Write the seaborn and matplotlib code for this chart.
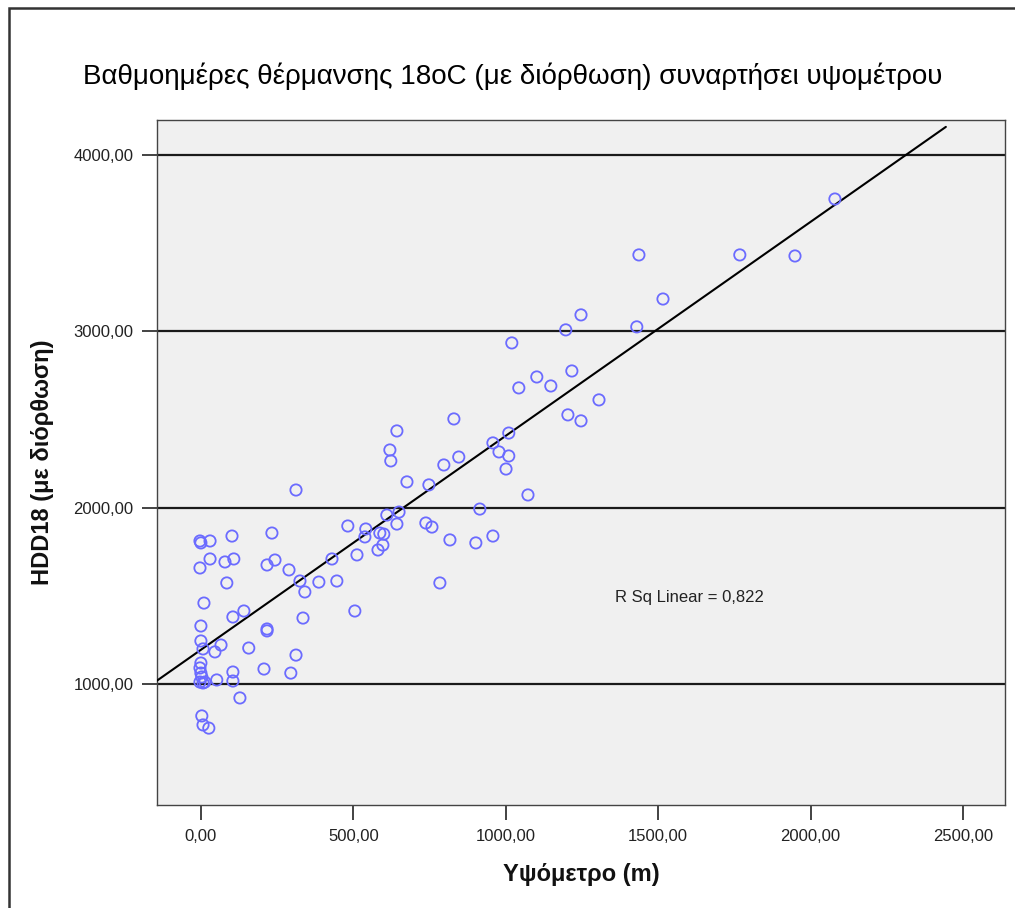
import numpy as np
import pandas as pd
import matplotlib
matplotlib.use("Agg")
import matplotlib.pyplot as plt
from matplotlib.patches import Rectangle
from matplotlib.ticker import FixedLocator, FuncFormatter
import seaborn as sns

# ---------------- data ----------------
altitude = [
    2080, 1437, 1768, 1949, 1516, 1247, 1197, 1430, 1020, 1217,
    1102, 1148, 1043, 1306, 1204, 1247, 830, 643, 1010, 958,
    620, 978, 623, 846, 1010, 797, 1001, 676, 748, 312,
    1073, 915, 610, 650, 643, 482, 541, 538, 587, 600,
    597, 581, 738, 758, 817, 902, 958, 512, 430, 784,
    387, 446, 341, 505, 335,
    -3, 0, 30, 102, 233, 30, -3, 79, 108, 217,
    243, 289, 325, 85, 10, 141, 105, 0, 217, 217,
    0, 7, 66, 46, 157, 312, 0, -3, 0, 3,
    -3, 7, 13, 52, 105, 105, 207, 295, 128, 3,
    7, 26,
]
hdd18 = [
    3750, 3433, 3433, 3427, 3183, 3093, 3008, 3025, 2934, 2775,
    2741, 2690, 2679, 2611, 2526, 2492, 2503, 2435, 2423, 2367,
    2327, 2316, 2265, 2287, 2293, 2242, 2219, 2146, 2129, 2100,
    2072, 1992, 1958, 1975, 1907, 1896, 1879, 1834, 1856, 1850,
    1788, 1760, 1913, 1890, 1817, 1800, 1839, 1732, 1709, 1573,
    1578, 1584, 1522, 1414, 1374,
    1811, 1800, 1811, 1839, 1856, 1709, 1658, 1692, 1709, 1675,
    1703, 1647, 1584, 1573, 1459, 1414, 1380, 1329, 1312, 1301,
    1244, 1199, 1221, 1182, 1204, 1164, 1119, 1091, 1062, 1040,
    1011, 1006, 1011, 1023, 1068, 1017, 1085, 1062, 921, 819,
    768, 750,
]
x_ticks = [0, 500, 1000, 1500, 2000, 2500]
y_ticks = [1000, 2000, 3000, 4000]
title = "Βαθμοημέρες θέρμανσης 18oC (με διόρθωση) συναρτήσει υψομέτρου"
x_label = "Υψόμετρο (m)"
y_label = "HDD18 (με διόρθωση)"
r2_text = "R Sq Linear = 0,822"

df = pd.DataFrame({"alt": altitude, "hdd": hdd18})

# ---------------- style ----------------
sns.set_theme(style="white")
plt.rcParams["font.family"] = ["Liberation Sans", "DejaVu Sans"]

W, H = 1015, 908
fig = plt.figure(figsize=(W / 100, H / 100), dpi=100)
fig.patch.set_facecolor("white")
ax = fig.add_axes([157 / W, 1 - 805 / H, (1005 - 157) / W, (805 - 120) / H])
ax.set_facecolor("#F0F0F0")

xlim = (-144, 2638)
ylim = (314, 4198)

# regression line (drawn across the range the reference shows)
ax.set_xlim(-144, 2444)
sns.regplot(data=df, x="alt", y="hdd", scatter=False, ci=None, truncate=False,
            color="black", line_kws={"linewidth": 1.5, "zorder": 3}, ax=ax)

# horizontal reference lines at the y ticks
for yv in y_ticks:
    ax.axhline(yv, color="#1a1a1a", linewidth=1.6, zorder=1)

sns.scatterplot(data=df, x="alt", y="hdd", ax=ax, marker="o", s=66,
                facecolors="none", edgecolor="#6B6BFF", linewidth=1.3,
                zorder=4)

ax.set_xlim(*xlim)
ax.set_ylim(*ylim)

ax.xaxis.set_major_locator(FixedLocator(x_ticks))
ax.yaxis.set_major_locator(FixedLocator(y_ticks))
fmt = FuncFormatter(lambda v, p: f"{v:.2f}".replace(".", ","))
ax.xaxis.set_major_formatter(fmt)
ax.yaxis.set_major_formatter(fmt)
ax.tick_params(axis="both", which="major", direction="out", length=11,
               width=1.2, color="#222222", labelsize=12, labelcolor="#222222",
               pad=6, bottom=True, left=True)

for sp in ax.spines.values():
    sp.set_color("#444444")
    sp.set_linewidth(1.0)

ax.set_xlabel(x_label, fontsize=17, fontweight="bold", labelpad=14, color="#111111")
ax.set_ylabel(y_label, fontsize=17, fontweight="bold", labelpad=14, color="#111111")

ax.text(1604, 1488, r2_text, ha="center", va="center", fontsize=12, color="#222222")

fig.text(513 / W, 1 - 76 / H, title, ha="center", va="center", fontsize=20,
         color="#000000")

# outer frame (continues beyond the image at right and bottom)
fig.add_artist(Rectangle((9 / W, -0.1), 1.2, 1.1 - 8 / H, transform=fig.transFigure,
                         fill=False, edgecolor="#333333", linewidth=1.8,
                         clip_on=False))

fig.savefig("out.png", dpi=100)
